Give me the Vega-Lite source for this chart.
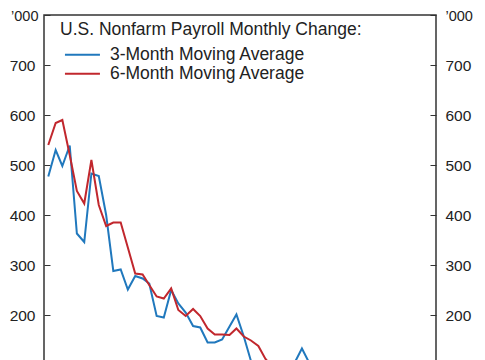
{
  "$schema": "https://vega.github.io/schema/vega-lite/v6.json",
  "width": 392,
  "height": 400,
  "autosize": {"type": "none"},
  "padding": {"left": 44, "top": 15, "right": 49, "bottom": 0},
  "background": "white",
  "config": {
    "font": "Liberation Sans",
    "view": {"stroke": "#333333", "strokeWidth": 1.5},
    "axis": {"grid": false, "domain": false, "title": null, "labelFont": "Liberation Sans", "labelColor": "#222222", "tickColor": "#333333", "tickWidth": 1}
  },
  "data": {
    "values": [
      {"month": "2022-01-01", "series": "3-Month Moving Average", "value": 477},
      {"month": "2022-02-01", "series": "3-Month Moving Average", "value": 530},
      {"month": "2022-03-01", "series": "3-Month Moving Average", "value": 498},
      {"month": "2022-04-01", "series": "3-Month Moving Average", "value": 539},
      {"month": "2022-05-01", "series": "3-Month Moving Average", "value": 363},
      {"month": "2022-06-01", "series": "3-Month Moving Average", "value": 346},
      {"month": "2022-07-01", "series": "3-Month Moving Average", "value": 483},
      {"month": "2022-08-01", "series": "3-Month Moving Average", "value": 478},
      {"month": "2022-09-01", "series": "3-Month Moving Average", "value": 400},
      {"month": "2022-10-01", "series": "3-Month Moving Average", "value": 288},
      {"month": "2022-11-01", "series": "3-Month Moving Average", "value": 291},
      {"month": "2022-12-01", "series": "3-Month Moving Average", "value": 251},
      {"month": "2023-01-01", "series": "3-Month Moving Average", "value": 278},
      {"month": "2023-02-01", "series": "3-Month Moving Average", "value": 273},
      {"month": "2023-03-01", "series": "3-Month Moving Average", "value": 263},
      {"month": "2023-04-01", "series": "3-Month Moving Average", "value": 198},
      {"month": "2023-05-01", "series": "3-Month Moving Average", "value": 195},
      {"month": "2023-06-01", "series": "3-Month Moving Average", "value": 250},
      {"month": "2023-07-01", "series": "3-Month Moving Average", "value": 223},
      {"month": "2023-08-01", "series": "3-Month Moving Average", "value": 205},
      {"month": "2023-09-01", "series": "3-Month Moving Average", "value": 178},
      {"month": "2023-10-01", "series": "3-Month Moving Average", "value": 175},
      {"month": "2023-11-01", "series": "3-Month Moving Average", "value": 145},
      {"month": "2023-12-01", "series": "3-Month Moving Average", "value": 145},
      {"month": "2024-01-01", "series": "3-Month Moving Average", "value": 151},
      {"month": "2024-02-01", "series": "3-Month Moving Average", "value": 177},
      {"month": "2024-03-01", "series": "3-Month Moving Average", "value": 201},
      {"month": "2024-04-01", "series": "3-Month Moving Average", "value": 157},
      {"month": "2024-05-01", "series": "3-Month Moving Average", "value": 108},
      {"month": "2024-06-01", "series": "3-Month Moving Average", "value": 70},
      {"month": "2024-07-01", "series": "3-Month Moving Average", "value": 55},
      {"month": "2024-08-01", "series": "3-Month Moving Average", "value": 60},
      {"month": "2024-09-01", "series": "3-Month Moving Average", "value": 75},
      {"month": "2024-10-01", "series": "3-Month Moving Average", "value": 90},
      {"month": "2024-11-01", "series": "3-Month Moving Average", "value": 105},
      {"month": "2024-12-01", "series": "3-Month Moving Average", "value": 133},
      {"month": "2025-01-01", "series": "3-Month Moving Average", "value": 104},
      {"month": "2025-02-01", "series": "3-Month Moving Average", "value": 80},
      {"month": "2025-03-01", "series": "3-Month Moving Average", "value": 60},
      {"month": "2025-04-01", "series": "3-Month Moving Average", "value": 45},
      {"month": "2025-05-01", "series": "3-Month Moving Average", "value": 30},
      {"month": "2022-01-01", "series": "6-Month Moving Average", "value": 540},
      {"month": "2022-02-01", "series": "6-Month Moving Average", "value": 584},
      {"month": "2022-03-01", "series": "6-Month Moving Average", "value": 590},
      {"month": "2022-04-01", "series": "6-Month Moving Average", "value": 520},
      {"month": "2022-05-01", "series": "6-Month Moving Average", "value": 448},
      {"month": "2022-06-01", "series": "6-Month Moving Average", "value": 423},
      {"month": "2022-07-01", "series": "6-Month Moving Average", "value": 510},
      {"month": "2022-08-01", "series": "6-Month Moving Average", "value": 420},
      {"month": "2022-09-01", "series": "6-Month Moving Average", "value": 378},
      {"month": "2022-10-01", "series": "6-Month Moving Average", "value": 385},
      {"month": "2022-11-01", "series": "6-Month Moving Average", "value": 385},
      {"month": "2022-12-01", "series": "6-Month Moving Average", "value": 335},
      {"month": "2023-01-01", "series": "6-Month Moving Average", "value": 283},
      {"month": "2023-02-01", "series": "6-Month Moving Average", "value": 281},
      {"month": "2023-03-01", "series": "6-Month Moving Average", "value": 260},
      {"month": "2023-04-01", "series": "6-Month Moving Average", "value": 237},
      {"month": "2023-05-01", "series": "6-Month Moving Average", "value": 233},
      {"month": "2023-06-01", "series": "6-Month Moving Average", "value": 253},
      {"month": "2023-07-01", "series": "6-Month Moving Average", "value": 210},
      {"month": "2023-08-01", "series": "6-Month Moving Average", "value": 198},
      {"month": "2023-09-01", "series": "6-Month Moving Average", "value": 212},
      {"month": "2023-10-01", "series": "6-Month Moving Average", "value": 198},
      {"month": "2023-11-01", "series": "6-Month Moving Average", "value": 173},
      {"month": "2023-12-01", "series": "6-Month Moving Average", "value": 161},
      {"month": "2024-01-01", "series": "6-Month Moving Average", "value": 161},
      {"month": "2024-02-01", "series": "6-Month Moving Average", "value": 160},
      {"month": "2024-03-01", "series": "6-Month Moving Average", "value": 173},
      {"month": "2024-04-01", "series": "6-Month Moving Average", "value": 157},
      {"month": "2024-05-01", "series": "6-Month Moving Average", "value": 149},
      {"month": "2024-06-01", "series": "6-Month Moving Average", "value": 138},
      {"month": "2024-07-01", "series": "6-Month Moving Average", "value": 112},
      {"month": "2024-08-01", "series": "6-Month Moving Average", "value": 95},
      {"month": "2024-09-01", "series": "6-Month Moving Average", "value": 85},
      {"month": "2024-10-01", "series": "6-Month Moving Average", "value": 80},
      {"month": "2024-11-01", "series": "6-Month Moving Average", "value": 82},
      {"month": "2024-12-01", "series": "6-Month Moving Average", "value": 90},
      {"month": "2025-01-01", "series": "6-Month Moving Average", "value": 100},
      {"month": "2025-02-01", "series": "6-Month Moving Average", "value": 95},
      {"month": "2025-03-01", "series": "6-Month Moving Average", "value": 90},
      {"month": "2025-04-01", "series": "6-Month Moving Average", "value": 75},
      {"month": "2025-05-01", "series": "6-Month Moving Average", "value": 60}
    ]
  },
  "encoding": {
    "x": {
      "field": "month",
      "type": "temporal",
      "scale": {"type": "utc", "domain": [{"year": 2021, "month": 12, "date": 14, "utc": true}, {"year": 2026, "month": 6, "date": 17, "utc": true}]},
      "axis": null
    }
  },
  "layer": [
    {
      "mark": {"type": "line", "strokeWidth": 2, "interpolate": "linear"},
      "encoding": {
        "y": {
          "field": "value",
          "type": "quantitative",
          "scale": {"domain": [0, 800], "nice": false},
          "axis": {
            "orient": "left",
            "values": [100, 200, 300, 400, 500, 600, 700, 800],
            "labelExpr": "datum.value == 800 ? '’000' : datum.label",
            "tickSize": -6,
            "labelFlush": false,
            "labelFontSize": {"condition": {"test": "datum.value == 800", "value": 14.5}, "value": 15.5},
            "labelPadding": {"condition": {"test": "datum.value == 800", "value": 12}, "value": 15},
            "labelOffset": {"condition": {"test": "datum.value == 800", "value": 1.5}, "value": 0}
          }
        },
        "color": {
          "field": "series",
          "type": "nominal",
          "scale": {"domain": ["3-Month Moving Average", "6-Month Moving Average"], "range": ["#2078bd", "#c1272d"]},
          "legend": {
            "orient": "none",
            "legendX": 16,
            "legendY": 6,
            "title": "U.S. Nonfarm Payroll Monthly Change:",
            "titleFontSize": 17.5,
            "titleFontWeight": "normal",
            "titleColor": "#222222",
            "titleFont": "Liberation Sans",
            "titleLimit": 400,
            "titlePadding": 7.5,
            "labelFontSize": 17.5,
            "labelColor": "#222222",
            "labelFont": "Liberation Sans",
            "labelLimit": 400,
            "labelOffset": 18.7,
            "symbolType": "M-3,0H3",
            "symbolSize": 136,
            "symbolStrokeWidth": 2,
            "symbolOffset": 13.7,
            "padding": 0,
            "rowPadding": 0
          }
        }
      }
    },
    {
      "mark": {"type": "line", "opacity": 0},
      "encoding": {
        "y": {
          "field": "value",
          "type": "quantitative",
          "scale": {"domain": [0, 800], "nice": false},
          "axis": {
            "orient": "right",
            "values": [100, 200, 300, 400, 500, 600, 700, 800],
            "labelExpr": "datum.value == 800 ? '’000' : datum.label",
            "tickSize": -6,
            "labelFlush": false,
            "labelPadding": 15,
            "labelFontSize": {"condition": {"test": "datum.value == 800", "value": 14.5}, "value": 15.5},
            "labelOffset": {"condition": {"test": "datum.value == 800", "value": 1.5}, "value": 0}
          }
        },
        "detail": {"field": "series", "type": "nominal"}
      }
    }
  ],
  "resolve": {"scale": {"y": "independent"}, "axis": {"y": "independent"}}
}
